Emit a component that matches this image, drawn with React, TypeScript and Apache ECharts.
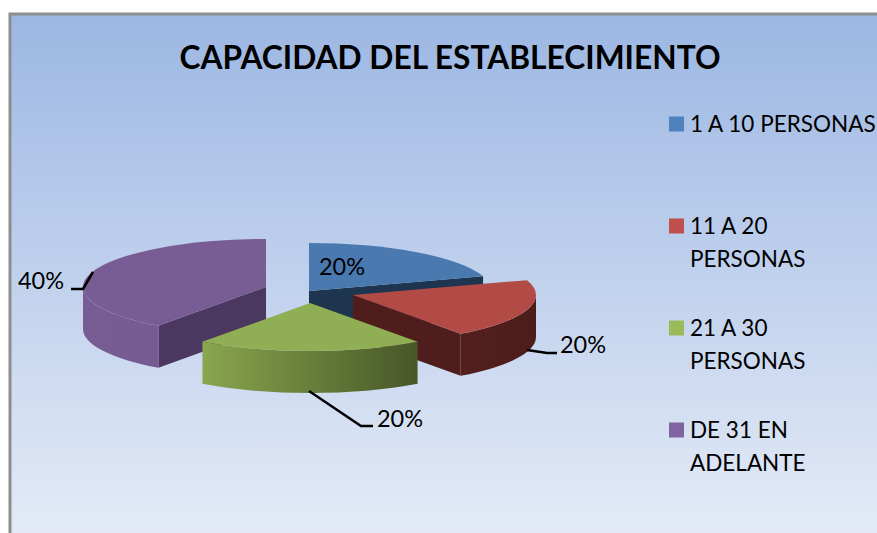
import React, { useEffect, useRef } from "react";
import * as echarts from "echarts";

const TITLE = "CAPACIDAD DEL ESTABLECIMIENTO";
const categories = ["1 A 10 PERSONAS", "11 A 20 PERSONAS", "21 A 30 PERSONAS", "DE 31 EN ADELANTE"];
const legendLines = ["1 A 10 PERSONAS\n ", "11 A 20\nPERSONAS", "21 A 30\nPERSONAS", "DE 31 EN\nADELANTE"];
const values = [20, 20, 20, 40];

const FONT = "Lato, 'Open Sans', sans-serif";
const RX = 183;
const RY = 48;
const DEPTH = 42;
const total = values.reduce((a, b) => a + b, 0);
const legendColors = ["#4f81bd", "#c0504d", "#9bbb59", "#8064a2"];
const topColors = ["#4a79b0", "#b24b46", "#90ae53", "#785c94"];
const innerColors = ["#1e3550", "#4f1e1c", "#4a5a28", "#4a3860"];
const outerStops: [string, string][] = [
  ["#2c4a70", "#1e3550"],
  ["#531f1c", "#4c1d1b"],
  ["#8aa64f", "#475727"],
  ["#785c94", "#765a92"],
];
const apexes = [[309, 291], [353, 295], [310, 303], [266, 287]];
const zOrder = [3, 5, 6, 4];
const labelPos = [[342, 266], [583, 344], [400, 418], [41, 280]];
const leaders: number[][][] = [
  [],
  [[527, 350], [547, 353], [557, 353]],
  [[309, 391], [361, 426], [373, 426]],
  [[93, 272], [83, 289], [71, 289]],
];

function makeRenderItem(i: number) {
  const before = values.slice(0, i).reduce((a, b) => a + b, 0);
  return (_params: any, api: any) => {
    const v = api.value(0);
    const a0 = (before / total) * 360;
    const a1 = a0 + (v / total) * 360;
    const [cx, cy] = apexes[i];
    const pt = (deg: number, dy = 0) => {
      const t = (deg * Math.PI) / 180;
      return [cx + RX * Math.sin(t), cy - RY * Math.cos(t) + dy];
    };
    const children: any[] = [];
    const wall = (deg: number) => {
      const p = pt(deg);
      const q = pt(deg, DEPTH);
      children.push({
        type: "polygon",
        shape: { points: [[cx, cy], p, q, [cx, cy + DEPTH]] },
        style: { fill: innerColors[i] },
      });
    };
    if (a1 > 0 && a1 < 180) wall(a1);
    if (a0 > 180 && a0 < 360) wall(a0);
    const o0 = Math.max(a0, 90);
    const o1 = Math.min(a1, 270);
    if (o1 > o0) {
      const s = pt(o0);
      const e = pt(o1);
      const sd = pt(o0, DEPTH);
      const ed = pt(o1, DEPTH);
      children.push({
        type: "path",
        shape: {
          pathData: `M${s[0]} ${s[1]}A${RX} ${RY} 0 0 1 ${e[0]} ${e[1]}L${ed[0]} ${ed[1]}A${RX} ${RY} 0 0 0 ${sd[0]} ${sd[1]}Z`,
        },
        style: {
          fill: new echarts.graphic.LinearGradient(0, 0, 1, 0, [
            { offset: 0, color: outerStops[i][0] },
            { offset: 1, color: outerStops[i][1] },
          ]),
        },
      });
    }
    const s = pt(a0);
    const e = pt(a1);
    children.push({
      type: "path",
      shape: {
        pathData: `M${cx} ${cy}L${s[0]} ${s[1]}A${RX} ${RY} 0 ${a1 - a0 > 180 ? 1 : 0} 1 ${e[0]} ${e[1]}Z`,
      },
      style: { fill: topColors[i] },
    });
    if (leaders[i].length) {
      children.push({
        type: "polyline",
        shape: { points: leaders[i] },
        style: { stroke: "#000", lineWidth: 2.5, fill: "none" },
      });
    }
    children.push({
      type: "text",
      x: labelPos[i][0],
      y: labelPos[i][1],
      style: {
        text: `${Math.round((v / total) * 100)}%`,
        fill: "#000",
        font: `23.5px ${FONT}`,
        align: "center",
        verticalAlign: "middle",
      },
    });
    return { type: "group", children };
  };
}

export default function App() {
  const ref = useRef<HTMLDivElement>(null);
  useEffect(() => {
    document.body.style.margin = "0";
    const chart = echarts.init(ref.current!, null, { renderer: "svg" });
    chart.setOption({
      animation: false,
      backgroundColor: "#ffffff",
      title: {
        text: TITLE,
        left: 450,
        top: 41,
        padding: 0,
        textAlign: "center",
        textStyle: { fontFamily: FONT, fontSize: 31.7, fontWeight: "bold", color: "#000" },
      },
      legend: {
        orient: "vertical",
        left: 669,
        top: 107.5,
        padding: 0,
        itemWidth: 16,
        itemHeight: 65,
        itemGap: 37,
        data: categories.map((name) => ({
          name,
          icon: "path://M0 9H15V24H0Z M0 0L0 0Z M16 65L16 65Z",
        })),
        formatter: (name: string) => legendLines[categories.indexOf(name)],
        textStyle: { fontFamily: FONT, fontSize: 22.5, lineHeight: 32.5, color: "#000" },
        selectedMode: false,
      },
      graphic: [
        {
          type: "rect",
          z: -10,
          shape: { x: 10, y: 14, width: 870, height: 522 },
          style: {
            fill: new echarts.graphic.LinearGradient(0, 0, 0, 1, [
              { offset: 0, color: "#9cb7e3" },
              { offset: 1, color: "#e4ebf7" },
            ]),
            stroke: "#8e8e8e",
            lineWidth: 3,
          },
        },
      ],
      series: categories.map((name, i) => ({
        type: "custom",
        name,
        coordinateSystem: "none",
        z: zOrder[i],
        silent: true,
        itemStyle: { color: legendColors[i] },
        data: [[values[i]]],
        renderItem: makeRenderItem(i),
      })),
    });
    return () => chart.dispose();
  }, []);
  return <div ref={ref} style={{ width: 877, height: 533 }} />;
}
